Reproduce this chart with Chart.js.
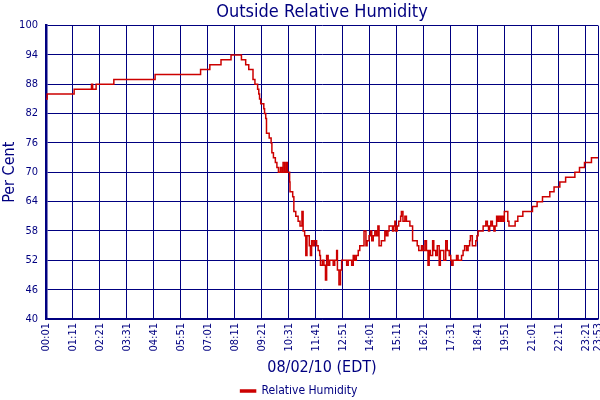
<!DOCTYPE html>
<html lang="en">
<head>
<meta charset="UTF-8">
<title>Outside Relative Humidity</title>
<script src="https://cdn.jsdelivr.net/npm/chart.js"></script>
<style>
    body { margin: 0; background: #ffffff; }
</style>
</head>
<body>
<canvas id="rhChart" width="600" height="400"></canvas>
<script>
    // minutes after midnight where the reading changes, and the new reading (%)
    const minutes = [
        1, 4, 74, 119, 122, 131, 177, 284, 402, 426, 455, 481, 508, 519, 527, 538, 543, 550, 553, 555,
        558, 566, 568, 571, 573, 580, 585, 587, 591, 596, 600, 604, 609, 613, 616, 620, 624, 627, 633, 634,
        641, 644, 649, 655, 660, 665, 668, 672, 675, 678, 684, 687, 690, 694, 698, 703, 707, 711, 713, 718,
        722, 726, 729, 733, 737, 746, 750, 755, 757, 761, 765, 768, 781, 785, 794, 798, 802, 806, 811, 815,
        826, 831, 834, 839, 843, 846, 850, 854, 858, 862, 865, 871, 880, 884, 888, 891, 900, 903, 906, 908,
        912, 916, 921, 923, 927, 932, 936, 945, 952, 964, 968, 975, 979, 984, 988, 992, 995, 998, 1004, 1007,
        1012, 1016, 1021, 1024, 1033, 1038, 1042, 1047, 1051, 1053, 1057, 1066, 1070, 1079, 1083, 1087, 1092, 1096, 1100, 1102,
        1107, 1116, 1119, 1122, 1135, 1142, 1146, 1149, 1152, 1155, 1159, 1163, 1166, 1170, 1173, 1176, 1180, 1183, 1187, 1190,
        1199, 1202, 1218, 1225, 1238, 1263, 1275, 1289, 1308, 1319, 1334, 1349, 1373, 1385, 1398, 1416, 1433
    ];
    const humidity = [
        85, 86, 87, 88, 87, 88, 89, 90, 91, 92, 93, 94, 93, 92, 91, 89, 88, 87, 86, 85,
        84, 83, 82, 81, 78, 77, 76, 74, 73, 72, 71, 70, 71, 70, 72, 70, 72, 70, 68, 66,
        65, 62, 61, 60, 59, 62, 58, 57, 53, 57, 55, 53, 56, 55, 56, 55, 54, 53, 51, 52,
        51, 48, 53, 51, 52, 51, 52, 54, 50, 47, 50, 52, 51, 52, 51, 53, 52, 53, 54, 55,
        58, 55, 56, 57, 58, 56, 57, 58, 57, 59, 55, 56, 58, 57, 58, 59, 58, 59, 60, 58,
        59, 60, 61, 62, 60, 61, 60, 59, 56, 55, 54, 55, 54, 56, 54, 51, 54, 53, 56, 54,
        53, 55, 51, 54, 52, 56, 54, 53, 52, 51, 52, 53, 52, 53, 54, 55, 54, 55, 56, 57,
        55, 56, 57, 58, 59, 60, 59, 58, 59, 60, 59, 58, 59, 61, 60, 61, 60, 61, 60, 62,
        60, 59, 60, 61, 62, 63, 64, 65, 66, 67, 68, 69, 70, 71, 72, 73, 73
    ];

    // x axis ticks (minutes after midnight) and their labels
    const tickMinutes = [1, 71, 141, 211, 281, 351, 421, 491, 561, 631, 701, 771, 841, 911, 981, 1051, 1121, 1191, 1261, 1331, 1401, 1433];
    const tickLabels = ['00:01', '01:11', '02:21', '03:31', '04:41', '05:51', '07:01', '08:11', '09:21', '10:31', '11:41',
        '12:51', '14:01', '15:11', '16:21', '17:31', '18:41', '19:51', '21:01', '22:11', '23:21', '23:53'];

    const navy = '#000080';
    const fam = "Tahoma, 'DejaVu Sans Condensed', 'DejaVu Sans', sans-serif";
    const padBottom = -7;   // pulls the legend down towards the bottom edge

    const ctx = document.getElementById('rhChart').getContext('2d');
    const chart = new Chart(ctx, {
        type: 'line',
        data: {
            datasets: [{
                label: 'Relative Humidity',
                data: minutes.map((m, i) => ({ x: m, y: humidity[i] })),
                borderColor: '#cc0000',
                backgroundColor: '#cc0000',
                borderWidth: 1.5,
                pointRadius: 0,
                stepped: true,
                fill: false
            }]
        },
        options: {
            responsive: false,
            animation: false,
            layout: { padding: { left: 0, right: 2, top: 0, bottom: padBottom } },
            plugins: {
                title: {
                    display: true,
                    text: 'Outside Relative Humidity',
                    color: navy,
                    fullSize: false,
                    font: { family: fam, size: 18, weight: 'normal' },
                    padding: { top: 2, bottom: 2 }
                },
                legend: {
                    position: 'bottom',
                    labels: {
                        color: navy,
                        font: { family: fam, size: 12 },
                        boxWidth: 15,
                        boxHeight: 2,
                        padding: 0
                    }
                },
                tooltip: { enabled: false }
            },
            scales: {
                x: {
                    type: 'linear',
                    min: 1,
                    max: 1433,
                    afterBuildTicks: s => { s.ticks = tickMinutes.map(v => ({ value: v })); },
                    afterFit: s => {
                        s.paddingLeft = 0;
                        s.paddingRight = 0;
                        // plot bottom sits at y = 319
                        s.height = s.chart.height - padBottom - 319 - s.chart.legend.height;
                    },
                    ticks: {
                        autoSkip: false,
                        minRotation: 90,
                        maxRotation: 90,
                        padding: 4,
                        color: navy,
                        font: { family: fam, size: 11 },
                        callback: (v, i) => tickLabels[i]
                    },
                    grid: { color: navy, lineWidth: 1, drawTicks: false },
                    border: { color: navy, width: 1.5 },
                    title: {
                        display: true,
                        text: '08/02/10 (EDT)',
                        color: navy,
                        font: { family: fam, size: 16 },
                        padding: { top: 2, bottom: 8 }
                    }
                },
                y: {
                    min: 40,
                    max: 100,
                    afterFit: s => { s.width = 46; },
                    ticks: {
                        stepSize: 6,
                        padding: 8,
                        color: navy,
                        font: { family: fam, size: 11 }
                    },
                    grid: { color: navy, lineWidth: 1, drawTicks: false },
                    border: { color: navy, width: 2.5 },
                    title: {
                        display: true,
                        text: 'Per Cent',
                        color: navy,
                        font: { family: fam, size: 16 },
                        padding: 0
                    }
                }
            }
        }
    });
</script>
</body>
</html>
